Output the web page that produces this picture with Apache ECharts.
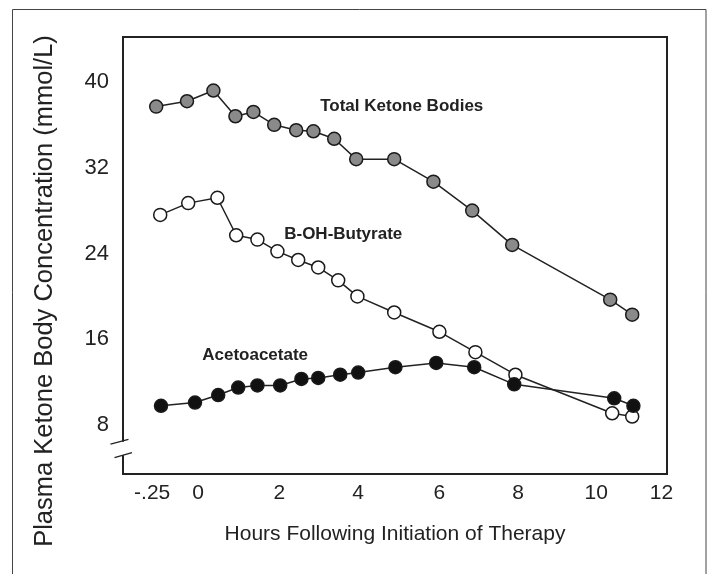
<!DOCTYPE html>
<html>
<head>
<meta charset="utf-8">
<title>Plasma ketone bodies</title>
<script src="https://cdn.jsdelivr.net/npm/echarts@6/dist/echarts.min.js"></script>
<style>
  html, body { margin: 0; padding: 0; background: #fff; }
  #chart { width: 709px; height: 574px; }
</style>
</head>
<body>
<div id="chart"></div>
<script>
// x values are hour positions (0 h at the "0" label)
const totalX = [-1.05, -0.28, 0.38, 0.93, 1.38, 1.9, 2.45, 2.88, 3.4, 3.95, 4.9, 5.88, 6.85, 7.85, 10.3, 10.85];
const totalY = [37.7, 38.2, 39.2, 36.8, 37.2, 36.0, 35.5, 35.4, 34.7, 32.8, 32.8, 30.7, 28.0, 24.8, 19.7, 18.3];

const butyrateX = [-0.95, -0.25, 0.48, 0.95, 1.48, 1.98, 2.5, 3.0, 3.5, 3.98, 4.9, 6.03, 6.93, 7.93, 10.35, 10.85];
const butyrateY = [27.6, 28.7, 29.2, 25.7, 25.3, 24.2, 23.4, 22.7, 21.5, 20.0, 18.5, 16.7, 14.8, 12.7, 9.1, 8.8];

const acetoX = [-0.93, -0.08, 0.5, 1.0, 1.48, 2.05, 2.58, 3.0, 3.55, 4.0, 4.93, 5.95, 6.9, 7.9, 10.4, 10.88];
const acetoY = [9.8, 10.1, 10.8, 11.5, 11.7, 11.7, 12.3, 12.4, 12.7, 12.9, 13.4, 13.8, 13.4, 11.8, 10.5, 9.8];

// tick labels and where they sit on the drawn axis
const xTickValues = [-1.15, 0, 2.03, 4.0, 6.03, 8.0, 9.95, 11.58];
const xTickLabels = ['-.25', '0', '2', '4', '6', '8', '10', '12'];
const yTickValues = [8, 16, 24, 32, 40];

// series name labels, anchored at the left/middle of the text
const labelTexts = ['Total Ketone Bodies', 'B-OH-Butyrate', 'Acetoacetate'];
const labelAnchors = [[3.05, 37.74], [2.15, 25.8], [0.1, 14.53]];

const yBreak = [6.45, 5.2];

const pair = (xs, ys) => xs.map((x, i) => [x, ys[i]]);

const chart = echarts.init(document.getElementById('chart'));

const lineSeries = (name, xs, ys, fill) => ({
  name,
  type: 'line',
  data: pair(xs, ys),
  symbol: 'circle',
  symbolSize: 13,
  lineStyle: { color: '#222', width: 1.5 },
  itemStyle: { color: fill, borderColor: '#1a1a1a', borderWidth: 1.5 },
  emphasis: { disabled: true },
  animation: false
});

chart.setOption({
  animation: false,
  grid: {
    left: 123, right: 42, top: 37, bottom: 100,
    show: true, borderColor: '#222', borderWidth: 2, backgroundColor: 'transparent'
  },
  xAxis: {
    type: 'value',
    min: -1.88,
    max: 11.72,
    axisLine: { show: false },
    axisTick: { show: false },
    splitLine: { show: false },
    axisLabel: {
      customValues: xTickValues,
      margin: 9,
      color: '#222',
      fontSize: 21,
      fontFamily: 'Liberation Sans',
      formatter: (v) => {
        let best = 0;
        xTickValues.forEach((t, i) => {
          if (Math.abs(t - v) < Math.abs(xTickValues[best] - v)) best = i;
        });
        return xTickLabels[best];
      }
    },
    name: 'Hours Following Initiation of Therapy',
    nameLocation: 'middle',
    nameGap: 50,
    nameTextStyle: { color: '#222', fontSize: 21, fontFamily: 'Liberation Sans' }
  },
  yAxis: {
    type: 'value',
    min: 3.44,
    max: 44.19,
    axisLine: { show: false },
    axisTick: { show: false },
    splitLine: { show: false },
    axisLabel: {
      customValues: yTickValues,
      margin: 14,
      color: '#222',
      fontSize: 22,
      fontFamily: 'Liberation Sans'
    }
  },
  series: [
    lineSeries('Total Ketone Bodies', totalX, totalY, '#8a8a8a'),
    lineSeries('B-OH-Butyrate', butyrateX, butyrateY, '#ffffff'),
    lineSeries('Acetoacetate', acetoX, acetoY, '#111111')
  ]
});

// decorations placed from axis coordinates
const axisX = chart.convertToPixel({ xAxisIndex: 0 }, -1.88);
const breakTop = chart.convertToPixel({ yAxisIndex: 0 }, yBreak[0]);
const breakBottom = chart.convertToPixel({ yAxisIndex: 0 }, yBreak[1]);

const graphics = [
  {
    type: 'rect',
    shape: { x: 12.5, y: 9.5, width: 693.5, height: 620 },
    style: { fill: 'none', stroke: '#444', lineWidth: 1 },
    silent: true, z: 0
  },
  {
    type: 'rect',
    shape: { x: axisX - 5, y: breakTop, width: 10, height: breakBottom - breakTop },
    style: { fill: '#fff' },
    silent: true, z: 100
  },
  {
    type: 'line',
    shape: { x1: axisX - 12.5, y1: breakTop + 2.3, x2: axisX + 5.5, y2: breakTop - 2.3 },
    style: { stroke: '#222', lineWidth: 1.3 },
    silent: true, z: 101
  },
  {
    type: 'line',
    shape: { x1: axisX - 8.5, y1: breakBottom + 2.5, x2: axisX + 9, y2: breakBottom - 2.5 },
    style: { stroke: '#222', lineWidth: 1.3 },
    silent: true, z: 101
  },
  {
    type: 'text',
    x: 45, y: 291,
    rotation: Math.PI / 2,
    style: {
      text: 'Plasma Ketone Body Concentration (mmol/L)',
      font: '25.5px "Liberation Sans"',
      fill: '#222',
      textAlign: 'center',
      textVerticalAlign: 'middle'
    },
    silent: true, z: 100
  }
];

labelTexts.forEach((t, i) => {
  const p = chart.convertToPixel({ gridIndex: 0 }, labelAnchors[i]);
  graphics.push({
    type: 'text',
    x: p[0], y: p[1],
    style: {
      text: t,
      font: 'bold 17px "Liberation Sans"',
      fill: '#222',
      textAlign: 'left',
      textVerticalAlign: 'middle'
    },
    silent: true, z: 100
  });
});

chart.setOption({ graphic: graphics });
</script>
</body>
</html>
